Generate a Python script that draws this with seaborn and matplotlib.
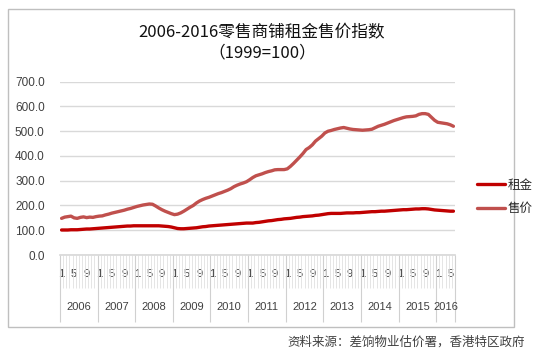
import matplotlib
matplotlib.use("Agg")
import matplotlib.pyplot as plt
import matplotlib.transforms as mtransforms
from matplotlib.patches import Rectangle
import seaborn as sns
import pandas as pd
import numpy as np

years = ["2006", "2007", "2008", "2009", "2010", "2011", "2012", "2013", "2014", "2015", "2016"]
month_labels = ["1", "5", "9"]

rent = [101, 101, 101, 102, 102, 102, 103, 104, 105, 105, 106, 107,
        108, 109, 110, 111, 112, 113, 114, 115, 116, 117, 117, 118,
        118, 118, 118, 118, 118, 118, 118, 118, 117, 116, 115, 113,
        110, 107, 106, 106, 107, 108, 109, 110, 112, 114, 115, 117,
        118, 119, 120, 121, 122, 123, 124, 125, 126, 127, 128, 129,
        129, 129, 131, 132, 134, 136, 138, 139, 141, 143, 144, 146,
        147, 148, 150, 152, 153, 155, 156, 157, 158, 160, 161, 163,
        165, 167, 168, 168, 168, 168, 169, 170, 170, 170, 171, 171,
        172, 173, 174, 175, 175, 176, 177, 177, 178, 179, 180, 181,
        182, 183, 183, 184, 185, 186, 186, 187, 187, 186, 184, 182,
        181, 180, 179, 178, 177, 177]

price = [148, 153, 155, 157, 150, 148, 152, 154, 151, 153, 152, 155,
         157, 158, 162, 165, 169, 172, 175, 178, 181, 185, 188, 192,
         196, 199, 202, 204, 206, 205, 198, 190, 183, 177, 172, 167,
         163, 165, 170, 177, 185, 193, 200, 210, 218, 224, 229, 233,
         238, 243, 248, 252, 257, 262, 268, 276, 282, 287, 291, 296,
         304, 313, 320, 324, 328, 333, 337, 340, 344, 345, 345, 345,
         348, 358, 370, 383, 396, 410, 426, 434, 445, 460, 470, 480,
         493, 500, 503, 507, 510, 513, 515, 512, 509, 507, 506, 505,
         504, 505, 506, 508, 514, 520, 524, 528, 533, 538, 543, 547,
         551, 555, 558, 559, 560, 562, 568, 571, 571, 568, 556, 544,
         536, 534, 532, 530, 526, 520]

series_names = ["租金", "售价"]

sns.set_theme(style="white")
plt.rcParams["font.family"] = ["Noto Sans CJK SC", "DejaVu Sans"]

n = len(rent)
idx = np.arange(n)
df = pd.concat([
    pd.DataFrame({"m": idx, "v": rent, "s": series_names[0]}),
    pd.DataFrame({"m": idx, "v": price, "s": series_names[1]}),
])

fig = plt.figure(figsize=(5.5, 3.57), dpi=100)
W, H = 550, 357
ax_l, ax_r, ax_top, ax_bot = 60, 455, 81.7, 255
ax = fig.add_axes([ax_l / W, (H - ax_bot) / H, (ax_r - ax_l) / W, (ax_bot - ax_top) / H])

sns.lineplot(data=df, x="m", y="v", hue="s", hue_order=series_names,
             palette={"租金": "#C00000", "售价": "#C0504D"}, linewidth=2.4,
             ax=ax, legend=False)

ax.set_xlim(-0.5, n - 0.5)
ax.set_ylim(0, 700)
ax.set_yticks(np.arange(0, 701, 100))
ax.set_yticklabels([f"{v:.1f}" for v in range(0, 701, 100)],
                   family="Liberation Sans", fontsize=8.5, color="#404040")
ax.yaxis.grid(True, color="#D9D9D9", linewidth=1)
ax.xaxis.grid(False)
for s in ["left", "right", "top"]:
    ax.spines[s].set_visible(False)
ax.spines["bottom"].set_color("#D9D9D9")
ax.tick_params(axis="y", length=0, pad=11)
ax.set_xlabel("")
ax.set_ylabel("")

# month tick labels
tick_pos = [i for i in idx if (i % 12) in (0, 4, 8)]
tick_lab = [month_labels[(i % 12) // 4] for i in tick_pos]
ax.set_xticks(tick_pos)
ax.set_xticklabels(tick_lab, family="Liberation Sans", fontsize=8, color="#404040")
ax.tick_params(axis="x", length=0, pad=10)
for t in ax.get_xticklabels():
    t.set_bbox(dict(facecolor="white", edgecolor="none", pad=0.3))

# category tick marks and year separators
axh = ax_bot - ax_top
trans = mtransforms.blended_transform_factory(ax.transData, ax.transAxes)
bounds = np.arange(n + 1) - 0.5
ax.vlines(bounds, -33 / axh, 0, transform=trans, colors="#E0E0E0", linewidth=0.6,
          clip_on=False, zorder=1)
ybounds = [b for b in bounds if (b + 0.5) % 12 == 0] + [n - 0.5]
ax.vlines(ybounds, -67 / axh, 0, transform=trans, colors="#D0D0D0", linewidth=0.8,
          clip_on=False, zorder=1)
for k, yr in enumerate(years):
    start = k * 12 - 0.5
    end = min((k + 1) * 12, n) - 0.5
    ax.text((start + end) / 2, -(307 - ax_bot) / axh, yr, transform=trans,
            ha="center", va="center", family="Liberation Sans", fontsize=8, color="#404040")

# legend
handles = [plt.Line2D([], [], color="#C00000", linewidth=2.4),
           plt.Line2D([], [], color="#C0504D", linewidth=2.4)]
fig.legend(handles, series_names, loc="center left", bbox_to_anchor=(466 / W, (H - 197) / H),
           frameon=False, fontsize=9, handlelength=2.2, handletextpad=0.2, labelspacing=0.85)

# title
fig.text(262 / W, (H - 33) / H, "2006-2016零售商铺租金售价指数", ha="center", va="center",
         fontsize=12, color="#111111")
fig.text(262 / W, (H - 53) / H, "（1999=100）", ha="center", va="center",
         fontsize=12, color="#111111")

# outer frame
fig.patches.append(Rectangle((8 / W, (H - 327) / H), 506 / W, 318 / H, transform=fig.transFigure,
                             fill=False, edgecolor="#BFBFBF", linewidth=1))

fig.text(525 / W, (H - 342) / H, "资料来源：差饷物业估价署，香港特区政府", ha="right", va="center",
         fontsize=9, color="#404040")

fig.savefig("out.png", dpi=100)
